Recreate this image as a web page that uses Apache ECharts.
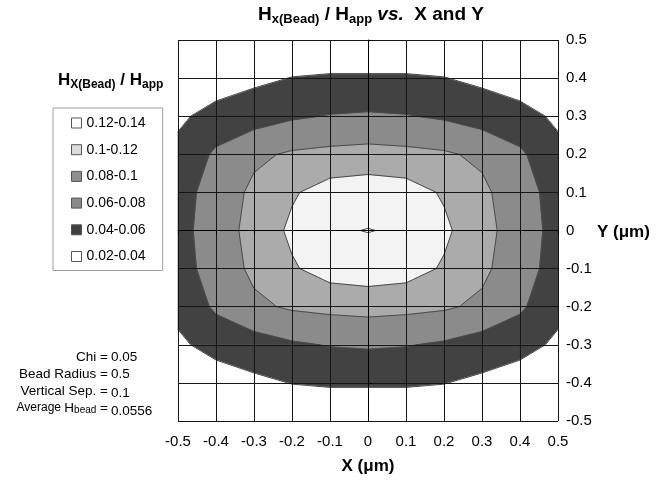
<!DOCTYPE html>
<html>
<head>
<meta charset="utf-8">
<title>Hx(Bead) / Happ vs. X and Y</title>
<style>
  html, body { margin: 0; background: #fff; }
  #chart { width: 664px; height: 482px; }
</style>
</head>
<body>
<div id="chart"></div>
<script src="https://cdn.jsdelivr.net/npm/echarts@6/dist/echarts.min.js"></script>
<script>
// grid positions (um)
var xTicks = [-0.5, -0.4, -0.3, -0.2, -0.1, 0, 0.1, 0.2, 0.3, 0.4, 0.5];
var yTicks = [0.5, 0.4, 0.3, 0.2, 0.1, 0, -0.1, -0.2, -0.3, -0.4, -0.5];

// Hx(Bead)/Happ, one row per y (top to bottom), columns follow xTicks
var hxGrid = [
  [0.020, 0.022, 0.024, 0.025, 0.025, 0.025, 0.025, 0.025, 0.024, 0.022, 0.020],
  [0.025, 0.028, 0.036, 0.0405, 0.042, 0.042, 0.042, 0.0405, 0.036, 0.028, 0.025],
  [0.036, 0.048, 0.0513, 0.0575, 0.061, 0.0624, 0.061, 0.0575, 0.0513, 0.048, 0.036],
  [0.046, 0.063, 0.0763, 0.0825, 0.085, 0.0866, 0.085, 0.0825, 0.0763, 0.063, 0.046],
  [0.052, 0.0685, 0.084, 0.0977, 0.109, 0.1119, 0.109, 0.0977, 0.084, 0.0685, 0.052],
  [0.0527, 0.071, 0.086, 0.104, 0.118, 0.1205, 0.118, 0.104, 0.086, 0.071, 0.0527],
  [0.052, 0.0685, 0.084, 0.0977, 0.109, 0.1119, 0.109, 0.0977, 0.084, 0.0685, 0.052],
  [0.046, 0.063, 0.0763, 0.0825, 0.085, 0.0866, 0.085, 0.0825, 0.0763, 0.063, 0.046],
  [0.036, 0.048, 0.0513, 0.0575, 0.061, 0.0624, 0.061, 0.0575, 0.0513, 0.048, 0.036],
  [0.025, 0.028, 0.036, 0.0405, 0.042, 0.042, 0.042, 0.0405, 0.036, 0.028, 0.025],
  [0.020, 0.022, 0.024, 0.025, 0.025, 0.025, 0.025, 0.025, 0.024, 0.022, 0.020]
];

var bandLabels = ['0.12-0.14', '0.1-0.12', '0.08-0.1', '0.06-0.08', '0.04-0.06', '0.02-0.04'];
var contourLevels = [0.04, 0.06, 0.08, 0.1, 0.12];

var infoLabels = ['Chi =', 'Bead Radius =', 'Vertical Sep. =', 'Average {t|H}{s|bead}{t| =}'];
var infoValues = ['0.05', '0.5', '0.1', '0.0556'];

var FONT = '"Liberation Sans", Arial, sans-serif';

// fill used on the plot and swatch used in the legend box
var bandFill = ['#ffffff', '#f3f3f3', '#ababab', '#8b8b8b', '#424242', '#ffffff'];
var bandSwatch = ['#ffffff', '#dcdcdc', '#8f8f8f', '#8a8a8a', '#404040', '#ffffff'];

var cells = [];
for (var r = 0; r < yTicks.length - 1; r++) {
  for (var c = 0; c < xTicks.length - 1; c++) {
    cells.push([(xTicks[c] + xTicks[c + 1]) / 2, (yTicks[r] + yTicks[r + 1]) / 2, c, r]);
  }
}

function cellCorners(c, r) {
  return [
    { x: xTicks[c], y: yTicks[r], v: hxGrid[r][c] },
    { x: xTicks[c + 1], y: yTicks[r], v: hxGrid[r][c + 1] },
    { x: xTicks[c + 1], y: yTicks[r + 1], v: hxGrid[r + 1][c + 1] },
    { x: xTicks[c], y: yTicks[r + 1], v: hxGrid[r + 1][c] }
  ];
}

// keep the part of a polygon above (or below) a level, interpolating along edges
function clipPoly(poly, level, above) {
  var out = [];
  for (var k = 0; k < poly.length; k++) {
    var a = poly[k], b = poly[(k + 1) % poly.length];
    var ina = above ? a.v >= level : a.v <= level;
    var inb = above ? b.v >= level : b.v <= level;
    if (ina) out.push(a);
    if (ina !== inb) {
      var t = (level - a.v) / (b.v - a.v);
      out.push({ x: a.x + t * (b.x - a.x), y: a.y + t * (b.y - a.y), v: level });
    }
  }
  return out;
}

function bandRenderer(idx) {
  var parts = bandLabels[idx].split('-');
  var lo = idx === bandLabels.length - 1 ? -Infinity : parseFloat(parts[0]);
  var hi = idx === 0 ? Infinity : parseFloat(parts[1]);
  var fill = bandFill[idx];
  return function (params, api) {
    var poly = cellCorners(api.value(2), api.value(3));
    poly = clipPoly(poly, lo, true);
    poly = clipPoly(poly, hi, false);
    if (poly.length < 3) return null;
    return {
      type: 'polygon',
      shape: { points: poly.map(function (p) { return api.coord([p.x, p.y]); }) },
      style: { fill: fill, stroke: fill, lineWidth: 0.6 }
    };
  };
}

function contourRenderer(params, api) {
  var q = cellCorners(api.value(2), api.value(3));
  var children = [];
  contourLevels.forEach(function (lv) {
    var pts = [];
    for (var k = 0; k < 4; k++) {
      var a = q[k], b = q[(k + 1) % 4];
      if ((a.v < lv) !== (b.v < lv)) {
        var t = (lv - a.v) / (b.v - a.v);
        pts.push(api.coord([a.x + t * (b.x - a.x), a.y + t * (b.y - a.y)]));
      }
    }
    for (var m = 0; m + 1 < pts.length; m += 2) {
      children.push({
        type: 'line',
        shape: { x1: pts[m][0], y1: pts[m][1], x2: pts[m + 1][0], y2: pts[m + 1][1] },
        style: { stroke: '#4a4a4a', lineWidth: 1 }
      });
    }
  });
  return { type: 'group', children: children };
}

var series = bandLabels.map(function (name, i) {
  return {
    name: name,
    type: 'custom',
    coordinateSystem: 'cartesian2d',
    renderItem: bandRenderer(i),
    encode: { x: 0, y: 1 },
    data: cells,
    z: 2,
    silent: true
  };
});
series.push({
  name: 'contours',
  type: 'custom',
  coordinateSystem: 'cartesian2d',
  renderItem: contourRenderer,
  encode: { x: 0, y: 1 },
  data: cells,
  z: 3,
  silent: true
});

var graphics = [
  {
    type: 'text', left: 258, top: 5,
    style: {
      text: '{h|H}{s|x(Bead)}{h| / H}{s|app}{i| vs.}{h|  X and Y}',
      rich: {
        h: { fontFamily: FONT, fontWeight: 'bold', fontSize: 19, lineHeight: 22, fill: '#000' },
        i: { fontFamily: FONT, fontWeight: 'bold', fontStyle: 'italic', fontSize: 19, lineHeight: 22, fill: '#000' },
        s: { fontFamily: FONT, fontWeight: 'bold', fontSize: 13, lineHeight: 13, verticalAlign: 'bottom', fill: '#000' }
      }
    }
  },
  {
    type: 'text', left: 58, top: 72,
    style: {
      text: '{h|H}{s|X(Bead)}{h| / H}{s|app}',
      rich: {
        h: { fontFamily: FONT, fontWeight: 'bold', fontSize: 17, lineHeight: 20, fill: '#000' },
        s: { fontFamily: FONT, fontWeight: 'bold', fontSize: 12, lineHeight: 12, verticalAlign: 'bottom', fill: '#000' }
      }
    }
  },
  {
    type: 'text', x: 368, y: 466,
    style: { text: 'X (\u03bcm)', font: 'bold 17px ' + FONT, fill: '#000', align: 'center', verticalAlign: 'middle' }
  },
  {
    type: 'text', x: 597, y: 232,
    style: { text: 'Y (\u03bcm)', font: 'bold 17px ' + FONT, fill: '#000', align: 'left', verticalAlign: 'middle' }
  }
];

var infoRows = [357, 374, 391, 408];
var valueShift = [0, 0, 2, 3];
infoLabels.forEach(function (lab, i) {
  graphics.push({
    type: 'text', x: 108, y: infoRows[i],
    style: {
      text: lab.indexOf('{') < 0 ? '{t|' + lab + '}' : lab,
      align: 'right', verticalAlign: 'middle',
      rich: {
        t: { fontFamily: FONT, fontSize: 13.5, lineHeight: 15, fill: '#000' },
        s: { fontFamily: FONT, fontSize: 10, lineHeight: 10, verticalAlign: 'bottom', fill: '#000' }
      }
    }
  });
  graphics.push({
    type: 'text', x: 111, y: infoRows[i] + valueShift[i],
    style: { text: infoValues[i], font: '13.5px ' + FONT, fill: '#000', align: 'left', verticalAlign: 'middle' }
  });
});

var option = {
  animation: false,
  backgroundColor: '#fff',
  grid: { left: 178, top: 40, width: 380, height: 381 },
  legend: {
    orient: 'vertical',
    left: 53, top: 108,
    padding: [8, 17, 7, 18],
    itemGap: 12.7,
    itemWidth: 10, itemHeight: 10,
    icon: 'rect',
    selectedMode: false,
    borderColor: '#a0a0a0', borderWidth: 1,
    textStyle: { fontFamily: FONT, fontSize: 14, lineHeight: 14, color: '#000' },
    data: bandLabels.map(function (name, i) {
      return { name: name, itemStyle: { color: bandSwatch[i], borderColor: '#555', borderWidth: 1 } };
    })
  },
  xAxis: {
    type: 'value', min: -0.5, max: 0.5, interval: 0.1,
    z: 10,
    axisLine: { show: true, lineStyle: { color: '#000', width: 1 } },
    axisTick: { show: true, length: 4, lineStyle: { color: '#000' } },
    axisLabel: { fontFamily: FONT, fontSize: 15, color: '#000', margin: 13 },
    splitLine: { show: true, lineStyle: { color: '#151515', width: 1 } }
  },
  yAxis: {
    type: 'value', min: -0.5, max: 0.5, interval: 0.1,
    position: 'right',
    z: 10,
    axisLine: { show: true, lineStyle: { color: '#000', width: 1 } },
    axisTick: { show: true, length: 4, lineStyle: { color: '#000' } },
    axisLabel: { fontFamily: FONT, fontSize: 15, color: '#000', margin: 8 },
    splitLine: { show: true, lineStyle: { color: '#151515', width: 1 } }
  },
  graphic: graphics,
  series: series
};

var chart = echarts.init(document.getElementById('chart'));
chart.setOption(option);
</script>
</body>
</html>
